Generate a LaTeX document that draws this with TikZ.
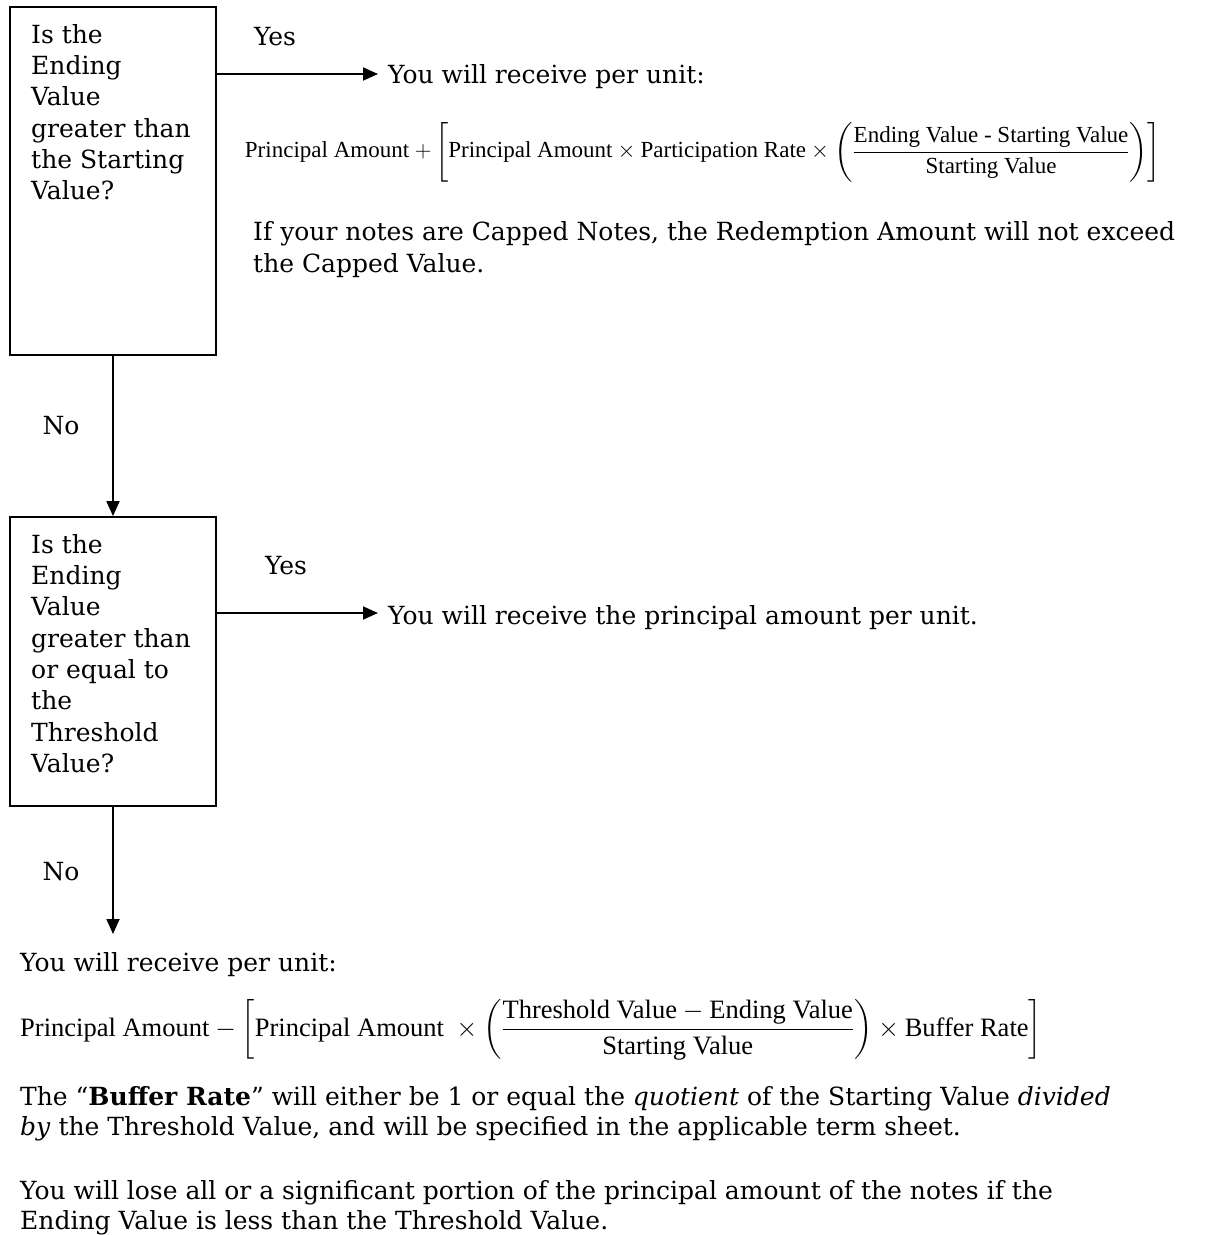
\RequirePackage{fix-cm}
\documentclass[tikz,border=0pt]{standalone}
\usepackage{amsmath}
\usepackage{fontspec}
\setmainfont{DejaVu Serif}
\newfontfamily\eqfont{Liberation Serif}
\usetikzlibrary{arrows.meta}

\begin{document}
\begin{tikzpicture}[x=1pt,y=-1pt,
  qbox/.style={draw,line width=1.8pt,minimum width=206pt,inner sep=0pt},
  txt/.style={font=\fontsize{25}{31.3}\selectfont,inner sep=0pt,align=left},
  link/.style={line width=1.8pt,-{Triangle[length=15pt,width=13pt]}}]
\useasboundingbox (0,0) rectangle (1207,1235);
% the two questions
\node[qbox,minimum height=348pt] (q1) at (113,181) {};
\node[qbox,minimum height=289pt] (q2) at (113,661.5) {};
\node[txt,anchor=north west] (q1t) at (31,24) {Is the\\Ending\\Value\\greater than\\the Starting\\Value?};
\node[txt,anchor=north west] (q2t) at (31,534) {Is the\\Ending\\Value\\greater than\\or equal to\\the\\Threshold\\Value?};
% yes branch 1
\node[txt] (yes1) at (275,37) {Yes};
\node[txt,anchor=base west] (r1) at (388,83) {You will receive per unit:};
\coordinate (a1) at (378,74);
\draw[link] (q1.east |- a1) -- (a1);
\node[inner sep=0pt,font=\fontsize{23}{27}\eqfont] (f1) at (703,152)
  {Principal Amount $+\left[\text{Principal Amount}\times\text{Participation Rate}\times\left(\dfrac{\text{Ending Value - Starting Value}}{\text{Starting Value}}\right)\right]$};
\node[txt,anchor=base west] (cap) at (253,272) {If your notes are Capped Notes, the Redemption Amount will not exceed\\the Capped Value.};
% no branch 1
\node[txt] (no1) at (61,426) {No};
\draw[link] (q1.south) -- (q2.north);
% yes branch 2
\node[txt] (yes2) at (286,566) {Yes};
\node[txt,anchor=base west] (r2) at (388,624) {You will receive the principal amount per unit.};
\coordinate (a2) at (378,613);
\draw[link] (q2.east |- a2) -- (a2);
% no branch 2
\node[txt] (no2) at (61,872) {No};
\coordinate (end) at (113,934);
\draw[link] (q2.south) -- (end);
\node[txt,anchor=base west] (r3) at (20,971) {You will receive per unit:};
\node[inner sep=0pt,font=\fontsize{26.5}{30}\eqfont,anchor=west] (f2) at (20,1030)
  {$\text{Principal Amount}-\left[\text{Principal Amount }\times\left(\dfrac{\text{Threshold Value}-\text{Ending Value}}{\text{Starting Value}}\right)\times\text{Buffer Rate}\right]$};
\node[txt,anchor=base west,font=\fontsize{25}{30}\selectfont] (buf) at (20,1135) {The “\textbf{Buffer Rate}” will either be 1 or equal the \textit{quotient} of the Starting Value \textit{divided}\\\textit{by} the Threshold Value, and will be specified in the applicable term sheet.};
\node[txt,anchor=base west,font=\fontsize{25}{30}\selectfont] (lose) at (20,1229) {You will lose all or a significant portion of the principal amount of the notes if the\\Ending Value is less than the Threshold Value.};
\end{tikzpicture}
\end{document}
